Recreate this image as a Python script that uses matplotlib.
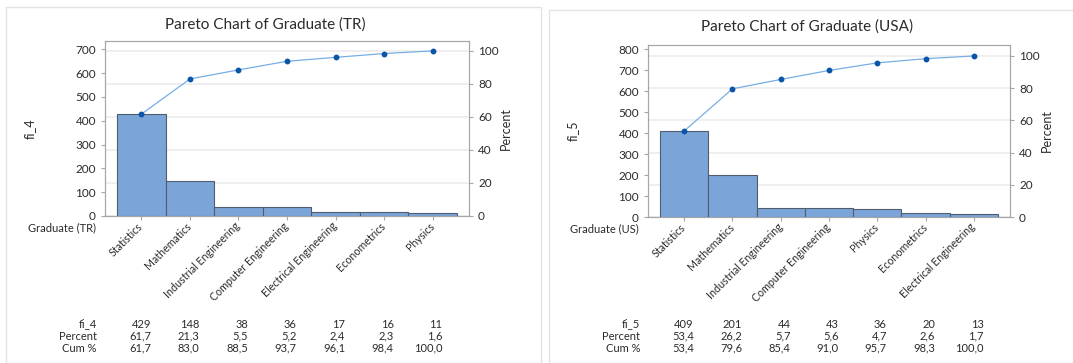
import matplotlib
matplotlib.use("Agg")
import matplotlib.pyplot as plt
import matplotlib.transforms as mtransforms
from matplotlib.patches import Rectangle

plt.rcParams['font.family'] = ['Lato', 'DejaVu Sans']

cats_tr = ["Statistics", "Mathematics", "Industrial Engineering", "Computer Engineering",
           "Electrical Engineering", "Econometrics", "Physics"]
fi_4 = [429, 148, 38, 36, 17, 16, 11]
pct_tr = [61.7, 21.3, 5.5, 5.2, 2.4, 2.3, 1.6]
cum_tr = [61.7, 83.0, 88.5, 93.7, 96.1, 98.4, 100.0]

cats_us = ["Statistics", "Mathematics", "Industrial Engineering", "Computer Engineering",
           "Physics", "Econometrics", "Electrical Engineering"]
fi_5 = [409, 201, 44, 43, 36, 20, 13]
pct_us = [53.4, 26.2, 5.7, 5.6, 4.7, 2.6, 1.7]
cum_us = [53.4, 79.6, 85.4, 91.0, 95.7, 98.3, 100.0]

W, H = 1073, 363
fig = plt.figure(figsize=(W / 100, H / 100), dpi=100)
fig.patch.set_facecolor('white')

BAR = '#7ba5d8'
EDGE = '#4f5d6e'
LINE = '#78aee6'
MARK = '#0a55a8'
TXT = '#2b2b2b'
SPINE = '#a6a6a6'


def px(x0, y0, x1, y1):
    # pixel box -> figure fraction [left, bottom, w, h]
    return [x0 / W, 1 - y1 / H, (x1 - x0) / W, (y1 - y0) / H]


def comma(v):
    return f"{v:.1f}".replace('.', ',')


def pareto(box, cats, counts, pct, cum, ytop, ptop, yticks, cname, xname, title, title_xy):
    ax = fig.add_axes(px(*box))
    ax2 = ax.twinx()
    ax.set_zorder(ax2.get_zorder() + 1)
    ax.patch.set_visible(False)

    n = len(cats)
    xs = list(range(n))
    ax.bar(xs, counts, width=1.0, color=BAR, edgecolor=EDGE, linewidth=0.8, zorder=3)
    # cumulative line drawn in percent units, on top of the bars
    ax.plot(xs, cum, color=LINE, linewidth=0.9, zorder=4, transform=ax2.transData)
    ax.plot(xs, cum, 'o', color=MARK, markersize=3.2, zorder=5, transform=ax2.transData)

    ax.set_xlim(-0.75, n - 0.25)
    ax.set_ylim(0, ytop)
    ax.set_yticks(yticks)
    ax.set_xticks(xs)
    ax.set_xticklabels(cats, rotation=45, ha='right', va='center', rotation_mode='anchor',
                       fontsize=7.7, color=TXT)
    shift = mtransforms.ScaledTranslation(15 / 100, 0, fig.dpi_scale_trans)
    for lab in ax.get_xticklabels():
        lab.set_transform(lab.get_transform() + shift)
    ax.tick_params(axis='y', labelsize=8.5, colors=TXT, length=3, color=SPINE)
    ax.tick_params(axis='x', length=3, color=SPINE, pad=3)
    for s in ax.spines.values():
        s.set_color(SPINE)
        s.set_linewidth(0.8)
    ax.set_ylabel(cname, fontsize=9, color=TXT)
    ax.yaxis.set_label_coords(-0.19, 0.5)

    ax2.set_ylim(0, ptop)
    ax2.set_xlim(ax.get_xlim())
    ax2.set_yticks([0, 20, 40, 60, 80, 100])
    ax2.grid(axis='y', color='#ececec', linewidth=1.2)
    ax2.tick_params(axis='y', labelsize=8.5, colors=TXT, length=3, color=SPINE)
    for s in ax2.spines.values():
        s.set_color(SPINE)
        s.set_linewidth(0.8)
    ax2.set_ylabel('Percent', fontsize=9, color=TXT)
    ax2.yaxis.set_label_coords(1.085, 0.5)

    # category axis name
    ax.text(0, 0, xname, transform=mtransforms.offset_copy(
        ax.transAxes, fig=fig, x=-9, y=-12, units='dots'),
        ha='right', va='center', fontsize=8, color=TXT)

    # summary table under the chart
    rows = [(cname, [str(c) for c in counts]),
            ('Percent', [comma(p) for p in pct]),
            ('Cum %', [comma(c) for c in cum])]
    blend = mtransforms.blended_transform_factory(ax.transData, fig.transFigure)
    lab_tr = mtransforms.blended_transform_factory(ax.transAxes, fig.transFigure)
    for r, (lab, vals) in enumerate(rows):
        yy = 1 - (324 + 12 * r) / H
        ax.text(-0.022, yy, lab, transform=lab_tr, ha='right', va='center',
                fontsize=8, color=TXT)
        for i, v in enumerate(vals):
            ax.text(i + 0.2, yy, v, transform=blend, ha='right', va='center',
                    fontsize=8, color=TXT)

    fig.text(title_xy[0] / W, 1 - title_xy[1] / H, title, ha='center', va='center',
             fontsize=11, color=TXT)
    return ax


# panel frames
fig.patches.append(Rectangle((6 / W, 0), (541 - 6) / W, 1 - 7 / H, transform=fig.transFigure,
                             fill=False, edgecolor='#e3e3e3', linewidth=1))
fig.patches.append(Rectangle((549 / W, 0), (W - 549 + 5) / W, 1 - 10 / H, transform=fig.transFigure,
                             fill=False, edgecolor='#e3e3e3', linewidth=1))

pareto((105, 41, 469, 216), cats_tr, fi_4, pct_tr, cum_tr, 735, 106,
       [0, 100, 200, 300, 400, 500, 600, 700], 'fi_4', 'Graduate (TR)',
       'Pareto Chart of Graduate (TR)', (265, 25))
pareto((648, 45, 1010, 217), cats_us, fi_5, pct_us, cum_us, 820, 106.8,
       [0, 100, 200, 300, 400, 500, 600, 700, 800], 'fi_5', 'Graduate (US)',
       'Pareto Chart of Graduate (USA)', (807, 27))

fig.savefig('out.png', dpi=100, facecolor='white')
